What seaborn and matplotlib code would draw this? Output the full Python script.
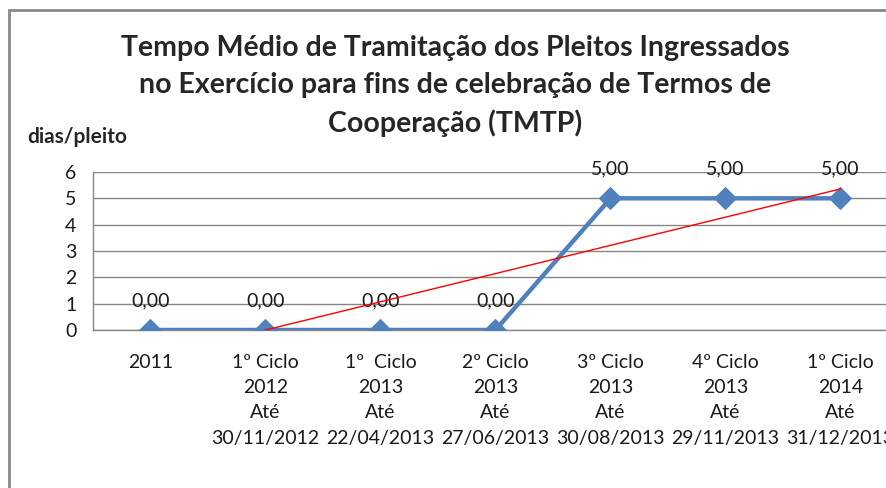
import numpy as np
import pandas as pd
import seaborn as sns
import matplotlib.pyplot as plt
from matplotlib.patches import Rectangle
from matplotlib.ticker import FixedLocator

# dados do grafico
categorias = ["2011",
              "1º Ciclo\n2012\nAté\n30/11/2012",
              "1º  Ciclo\n2013\nAté\n22/04/2013",
              "2º Ciclo\n2013\nAté\n27/06/2013",
              "3º Ciclo\n2013\nAté\n30/08/2013",
              "4º Ciclo\n2013\nAté\n29/11/2013",
              "1º Ciclo\n2014\nAté\n31/12/2013"]
valores = [0, 0, 0, 0, 5, 5, 5]
rotulos = ["0,00", "0,00", "0,00", "0,00", "5,00", "5,00", "5,00"]

base = pd.DataFrame({"pos": np.arange(len(categorias)), "tmtp": valores})

sns.set_style("white")
plt.rcParams['font.family'] = ['Lato', 'DejaVu Sans']

fig = plt.figure(figsize=(8.87, 4.88), dpi=100)
ax = fig.add_axes([93/887, 158/488, 805/887, 158/488])

# linha principal
sns.lineplot(data=base, x="pos", y="tmtp", ax=ax, color="#4F81BD", linewidth=3.2,
             marker="D", markersize=11, markeredgecolor="#4F81BD", zorder=3)

# linha de tendencia linear
coef = np.polyfit(base["pos"], base["tmtp"], 1)
xt = np.array([0, len(categorias) - 1])
ax.plot(xt, np.polyval(coef, xt), color="#FF0000", linewidth=1, zorder=4)

# rotulos de dados
for x, y, r in zip(base["pos"], base["tmtp"], rotulos):
    ax.annotate(r, (x, y), xytext=(0, 15), textcoords="offset points",
                ha="center", va="bottom", fontsize=14, color="#1a1a1a")

ax.set_xlim(-0.5, len(categorias) - 0.5)
ax.set_ylim(0, 6)
ax.set_yticks(range(0, 7))
ax.set_xticks(base["pos"])
ax.set_xticklabels(categorias, linespacing=1.6)
ax.xaxis.set_minor_locator(FixedLocator(np.arange(-0.5, len(categorias), 1)))
ax.tick_params(axis="x", which="major", length=0, pad=17, labelsize=14, colors="#1a1a1a")
ax.tick_params(axis="x", which="minor", length=6, width=1, color="#868686", direction="out")
ax.tick_params(axis="y", length=6, width=1, color="#868686", direction="out",
               labelsize=14, labelcolor="#1a1a1a", pad=6)
ax.set_xlabel("")
ax.set_ylabel("")
ax.grid(axis="y", color="#868686", linewidth=1)
for lado in ["top", "right"]:
    ax.spines[lado].set_visible(False)
for lado in ["left", "bottom"]:
    ax.spines[lado].set_color("#868686")
    ax.spines[lado].set_linewidth(1)

# titulo e rotulo do eixo
fig.text(455/887, 1 - 86/488,
         "Tempo Médio de Tramitação dos Pleitos Ingressados\n"
         "no Exercício para fins de celebração de Termos de\n"
         "Cooperação (TMTP)",
         ha="center", va="center", fontsize=20.5, fontweight="bold", linespacing=1.5)
fig.text(27/887, 1 - 137/488, "dias/pleito", ha="left", va="center",
         fontsize=15, fontweight="bold")

# moldura do grafico
fig.patches.append(Rectangle((9/887, -0.1), 1.2, 0.1 + (1 - 10/488), transform=fig.transFigure,
                             fill=False, edgecolor="#898989", linewidth=2))

fig.savefig("out.png", dpi=100)
